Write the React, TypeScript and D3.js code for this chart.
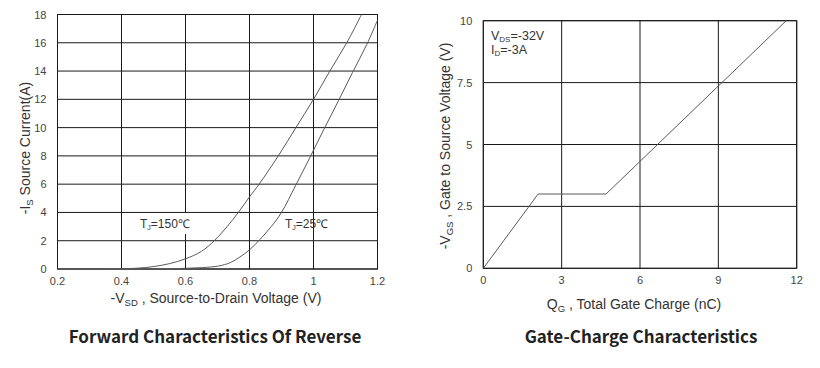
import React from "react";
import * as d3 from "d3";

const W = 820;
const H = 368;

// Forward characteristics of reverse diode
const vsd150 = [0.2, 0.3, 0.4, 0.45, 0.5, 0.55, 0.6, 0.65, 0.69, 0.73, 0.765, 0.8, 0.83, 0.89, 0.945, 1.0, 1.051, 1.104, 1.15];
const is150 = [0, 0, 0.02, 0.06, 0.17, 0.38, 0.72, 1.25, 2, 3, 4, 5.1, 6, 8, 10, 12, 14, 16, 18];
const vsd25 = [0.2, 0.5, 0.6, 0.7, 0.74, 0.77, 0.8, 0.833, 0.868, 0.9, 0.944, 0.989, 1.033, 1.078, 1.122, 1.167, 1.2];
const is25 = [0, 0.01, 0.05, 0.2, 0.45, 0.85, 1.35, 2.1, 3, 4, 5.9, 7.9, 9.9, 11.9, 13.9, 15.9, 17.6];
const fwdXTicks = [0.2, 0.4, 0.6, 0.8, 1, 1.2];
const fwdYTicks = [0, 2, 4, 6, 8, 10, 12, 14, 16, 18];

// Gate charge
const qg = [0, 2.1, 4.7, 11.6];
const vgs = [0, 3, 3, 10];
const gcXTicks = [0, 3, 6, 9, 12];
const gcYTicks = [0, 2.5, 5, 7.5, 10];

const FONT = "'Liberation Sans', Arial, sans-serif";
const TITLE_FONT = "'Noto Sans CJK SC', 'Noto Sans', sans-serif";
const GRID = "#1a1a1a";
const CURVE = "#5a5a5a";
const TICK = "#444";

function Grid({ x, y, xTicks, yTicks }: any) {
  const [x0, x1] = x.range();
  const [y0, y1] = y.range();
  return (
    <g>
      {xTicks.map((t: number) => (
        <line key={"x" + t} x1={x(t)} x2={x(t)} y1={y0} y2={y1} stroke={GRID} strokeWidth={1} />
      ))}
      {yTicks.map((t: number) => (
        <line key={"y" + t} x1={x0} x2={x1} y1={y(t)} y2={y(t)} stroke={GRID} strokeWidth={1} />
      ))}
      <rect x={x0} y={y1} width={x1 - x0} height={y0 - y1} fill="none" stroke={GRID} strokeWidth={1} />
      {xTicks.map((t: number) => (
        <text key={"xl" + t} x={x(t)} y={y0 + 16} textAnchor="middle" fontSize={11} fill={TICK} fontFamily={FONT}>
          {t}
        </text>
      ))}
      {yTicks.map((t: number) => (
        <text key={"yl" + t} x={x0 - 11} y={y(t) + 4} textAnchor="end" fontSize={11} fill={TICK} fontFamily={FONT}>
          {t}
        </text>
      ))}
    </g>
  );
}

function ForwardChart() {
  const x = d3.scaleLinear().domain([0.2, 1.2]).range([57.5, 377.5]);
  const y = d3.scaleLinear().domain([0, 18]).range([269, 14.5]);
  const line = d3
    .line<number>()
    .x((d) => x(d))
    .curve(d3.curveCatmullRom.alpha(0.5));
  const path150 = line.y((_, i) => y(is150[i]))(vsd150);
  const path25 = line.y((_, i) => y(is25[i]))(vsd25);
  return (
    <g>
      <Grid x={x} y={y} xTicks={fwdXTicks} yTicks={fwdYTicks} />
      <path d={path150 || ""} fill="none" stroke={CURVE} strokeWidth={1} />
      <path d={path25 || ""} fill="none" stroke={CURVE} strokeWidth={1} />
      <rect x={134} y={213} width={69} height={21} fill="#fff" />
      <text x={140} y={228} fontSize={12} fill="#333" fontFamily={FONT}>
        T<tspan fontSize={7} dy={2}>J</tspan>
        <tspan dy={-2}>=150℃</tspan>
      </text>
      <text x={285} y={228} fontSize={12} fill="#333" fontFamily={FONT}>
        T<tspan fontSize={7} dy={2}>J</tspan>
        <tspan dy={-2}>=25℃</tspan>
      </text>
      <text x={216} y={303} textAnchor="middle" fontSize={14} fill="#333" fontFamily={FONT}>
        -V<tspan fontSize={9.5} dy={3}>SD</tspan>
        <tspan dy={-3}> , Source-to-Drain Voltage (V)</tspan>
      </text>
      <text transform="translate(30,148) rotate(-90)" textAnchor="middle" fontSize={14} fill="#333" fontFamily={FONT}>
        -I<tspan fontSize={9.5} dy={3}>S</tspan>
        <tspan dy={-3}> Source Current(A)</tspan>
      </text>
      <text x={215} y={343} textAnchor="middle" fontSize={17} fontWeight="bold" fill="#222" fontFamily={TITLE_FONT}>
        Forward Characteristics Of Reverse
      </text>
    </g>
  );
}

function GateChargeChart() {
  const x = d3.scaleLinear().domain([0, 12]).range([483.3, 796.7]);
  const y = d3.scaleLinear().domain([0, 10]).range([268.3, 20.7]);
  const line = d3
    .line<number>()
    .x((d) => x(d))
    .y((_, i) => y(vgs[i]));
  return (
    <g>
      <Grid x={x} y={y} xTicks={gcXTicks} yTicks={gcYTicks} />
      <path d={line(qg) || ""} fill="none" stroke={CURVE} strokeWidth={1} />
      <text x={491} y={40} fontSize={12.5} fill="#333" fontFamily={FONT}>
        V<tspan fontSize={8} dy={1.5}>DS</tspan>
        <tspan dy={-1.5}>=-32V</tspan>
      </text>
      <text x={491} y={54} fontSize={12.5} fill="#333" fontFamily={FONT}>
        I<tspan fontSize={8} dy={1.5}>D</tspan>
        <tspan dy={-1.5}>=-3A</tspan>
      </text>
      <text x={634} y={309} textAnchor="middle" fontSize={14} fill="#333" fontFamily={FONT}>
        Q<tspan fontSize={9.5} dy={3}>G</tspan>
        <tspan dy={-3}> , Total Gate Charge (nC)</tspan>
      </text>
      <text transform="translate(450,146) rotate(-90)" textAnchor="middle" fontSize={14} fill="#333" fontFamily={FONT}>
        -V<tspan fontSize={9.5} dy={3}>GS</tspan>
        <tspan dy={-3}> , Gate to Source Voltage (V)</tspan>
      </text>
      <text x={641} y={343} textAnchor="middle" fontSize={17} fontWeight="bold" fill="#222" fontFamily={TITLE_FONT}>
        Gate-Charge Characteristics
      </text>
    </g>
  );
}

export default function App() {
  return (
    <svg width={W} height={H} style={{ position: "absolute", left: 0, top: 0, background: "#fff" }}>
      <rect width={W} height={H} fill="#fff" />
      <ForwardChart />
      <GateChargeChart />
    </svg>
  );
}
